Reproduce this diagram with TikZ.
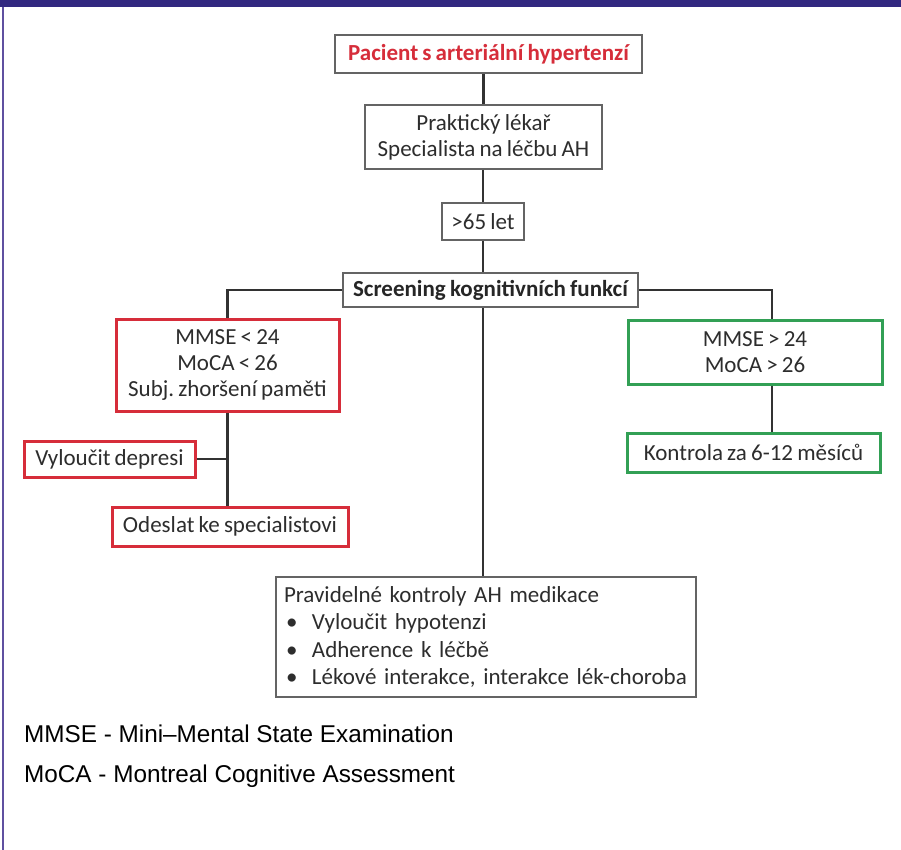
\documentclass[tikz,border=0pt]{standalone}
\usepackage{fontspec}
\setmainfont{Carlito}[WordSpace=0.8]
\newfontfamily\arialf{Liberation Sans}
\definecolor{band}{RGB}{50,40,128}
\definecolor{bandline}{RGB}{95,80,160}
\definecolor{rbord}{RGB}{214,45,58}
\definecolor{gbord}{RGB}{50,160,85}
\definecolor{kbord}{RGB}{100,100,100}
\definecolor{txt}{RGB}{45,45,45}
\definecolor{conn}{RGB}{50,50,50}
\tikzset{
  box/.style={draw=kbord, line width=2pt, fill=white, inner sep=0pt, align=center,
     text=txt, font=\frenchspacing\fontsize{23}{26}\selectfont},
  redbox/.style={box, draw=rbord, line width=3pt},
  greenbox/.style={box, draw=gbord, line width=3pt},
  link/.style={draw=conn, line width=2.4pt},
  foot/.style={anchor=base west, inner sep=0pt, text=black, font=\arialf\fontsize{24.3}{28}\selectfont}
}
\begin{document}
\begin{tikzpicture}[x=1pt,y=-1pt]
\useasboundingbox (0,0) rectangle (901,850);
\fill[white] (0,0) rectangle (901,850);
\fill[band] (0,0) rectangle (901,7);
\draw[bandline, line width=1.8pt] (3,7) -- (3,850);

\node[box, minimum width=307pt, minimum height=38pt, text=rbord, font=\bfseries\fontsize{23}{26}\selectfont] (top) at (488.5,54) {Pacient s arteriální hypertenzí};
\node[box, minimum width=237pt, minimum height=64pt] (prak) at (483.5,137) {Praktický lékař\\Specialista na léčbu AH};
\node[box, minimum width=82pt, minimum height=37pt] (age) at (483,221.5) {>65 let};
\node[box, minimum width=295pt, minimum height=34pt, font=\bfseries\fontsize{23}{26}\selectfont, text=black!85] (scr) at (490.5,290) {Screening kognitivních funkcí};
\node[redbox, minimum width=223pt, minimum height=92pt] (low) at (227.5,365) {MMSE < 24\\MoCA < 26\\Subj. zhoršení paměti};
\node[redbox, minimum width=171pt, minimum height=36pt] (dep) at (109.5,459) {Vyloučit depresi};
\node[redbox, minimum width=236pt, minimum height=39pt] (ode) at (230,526.5) {Odeslat ke specialistovi};
\node[greenbox, minimum width=254pt, minimum height=64pt] (high) at (755,352) {MMSE > 24\\MoCA > 26};
\node[greenbox, minimum width=253pt, minimum height=39pt] (kon) at (753.5,452.5) {Kontrola za 6-12 měsíců};
\node[box, minimum width=420pt, minimum height=120pt, align=left, text width=404pt, font=\frenchspacing\fontsize{23}{27.5}\selectfont] (prav) at (486,637)
  {Pravidelné kontroly AH medikace\\
   \makebox[28pt][l]{\hspace{2pt}•}Vyloučit hypotenzi\\
   \makebox[28pt][l]{\hspace{2pt}•}Adherence k léčbě\\
   \makebox[28pt][l]{\hspace{2pt}•}Lékové interakce, interakce lék-choroba};

\draw[link] (prak.north |- top.south) -- (prak.north);
\draw[link] (age.north |- prak.south) -- (age.north);
\draw[link] (age.south) -- (age.south |- scr.north);
\draw[link] (scr.west) -| (low.north);
\draw[link] (scr.east) -| ([xshift=17pt]high.north);
\draw[link] ([xshift=17pt]high.south) -- ([xshift=17pt]high.south |- kon.north);
\draw[link] (low.south) -- (low.south |- ode.north);
\draw[link] (dep.east) -- (dep.east -| low.south);
\draw[link] (age.south |- scr.south) -- (age.south |- prav.north);

\node[foot] (f1) at (24,742) {MMSE - Mini–Mental State Examination};
\node[foot] (f2) at (24,782) {MoCA - Montreal Cognitive Assessment};
\end{tikzpicture}
\end{document}
